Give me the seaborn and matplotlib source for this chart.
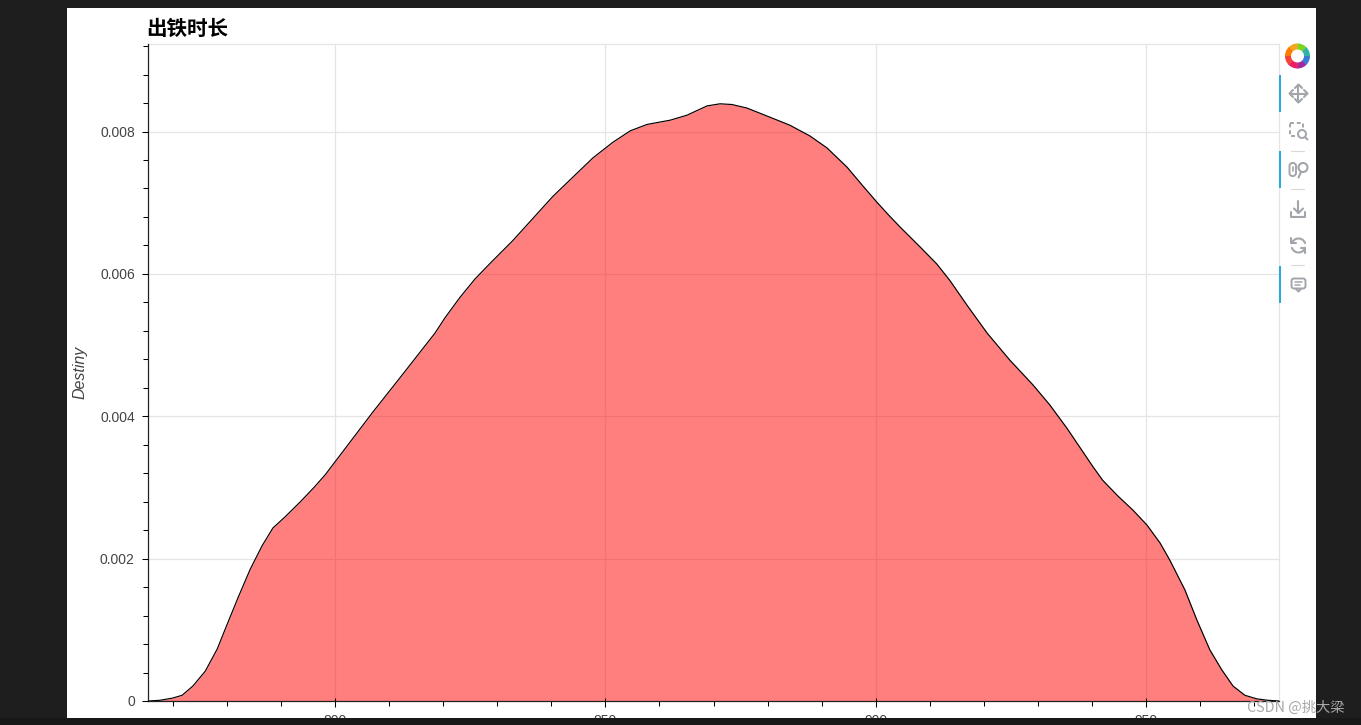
import numpy as np
import pandas as pd
import matplotlib
matplotlib.use("Agg")
import matplotlib.pyplot as plt
import seaborn as sns
from matplotlib.patches import Rectangle, Wedge, Circle, FancyBboxPatch

minutes = [765.4, 767.6, 769.9, 771.7, 773.7, 776.0, 778.2, 780.0, 782.1, 784.3, 786.5, 788.5, 790.8,
           793.6, 796.1, 798.2, 800.1, 803.3, 807.0, 812.0, 818.5, 820.3, 823.1, 825.9, 828.7, 832.9, 836.6, 840.3, 844.0,
           847.7, 851.4, 854.6, 857.7, 862.0, 865.1, 868.8, 871.2, 873.4, 876.2, 880.5, 884.1, 887.8,
           891.0, 894.7, 897.7, 900.2, 902.6, 904.5, 908.2, 911.3, 913.7, 916.9, 920.6, 924.8, 929.1,
           932.2, 935.4, 940.2, 942.0, 944.8, 947.6, 950.2, 952.6, 954.4, 957.2, 959.4, 961.8, 964.0, 966.1,
           968.3, 970.5, 972.5, 974.6]
density = [0.0, 0.00001, 0.00004, 0.00008, 0.00021, 0.00042, 0.00073, 0.00107, 0.00146, 0.00185, 0.00218,
           0.00243, 0.00259, 0.00280, 0.00300, 0.00318, 0.00337, 0.00369, 0.00406, 0.00454, 0.00517, 0.00538, 0.00567, 0.00593, 0.00615,
           0.00647, 0.00678, 0.00709, 0.00736, 0.00763, 0.00785, 0.00801, 0.00810, 0.00816, 0.00823, 0.00836,
           0.00839, 0.00838, 0.00833, 0.00820, 0.00809, 0.00794, 0.00777, 0.00750, 0.00723, 0.00701, 0.00681,
           0.00666, 0.00638, 0.00614, 0.00591, 0.00556, 0.00517, 0.00479, 0.00444, 0.00416, 0.00383, 0.00329,
           0.00310, 0.00288, 0.00268, 0.00247, 0.00222, 0.00198, 0.00156, 0.00114, 0.00072, 0.00044, 0.00021, 0.00008,
           0.00003, 0.00001, 0.0]
x_ticks = [800, 850, 900, 950]
x_tick_labels = ["800", "850", "900", "950"]
y_ticks = [0, 0.002, 0.004, 0.006, 0.008]
y_tick_labels = ["0", "0.002", "0.004", "0.006", "0.008"]
title_text = "出铁时长"
y_label = "Destiny"
watermark = "CSDN @挑大梁"

W, H = 1361, 725
sns.set_theme(style="white")
plt.rcParams["font.family"] = ["Liberation Sans", "Noto Sans CJK SC", "DejaVu Sans"]

fig = plt.figure(figsize=(W / 100, H / 100), dpi=100, facecolor="#1e1e1e")
fig.add_artist(Rectangle((67 / W, 1 - 717.5 / H), (1316 - 67) / W, (717.5 - 8) / H,
                         transform=fig.transFigure, fc="white", ec="none", zorder=-5))
ax = fig.add_axes([148 / W, 1 - 701 / H, (1279 - 148) / W, (701 - 44) / H], facecolor="none")

df = pd.DataFrame({"minutes": minutes, "density": density})
ax.fill_between(df["minutes"], 0, df["density"], color="#ff0000", alpha=0.5, lw=0, zorder=2)
sns.lineplot(data=df, x="minutes", y="density", estimator=None, sort=False, color="black", lw=0.85, ax=ax, zorder=3)

ax.set_xlim(765.4, 974.6)
ax.set_ylim(0, 0.00923)
ax.set_xticks(x_ticks, x_tick_labels)
ax.set_yticks(y_ticks, y_tick_labels)
ax.set_xticks(np.arange(770, 971, 10), minor=True)
ax.set_yticks(np.arange(0, 0.0093, 0.0004), minor=True)
ax.set_xlabel("")
ax.set_ylabel(y_label, fontsize=11.5, style="italic", color="#444444", labelpad=0)
ax.yaxis.set_label_coords((88 - 148) / (1279 - 148), 0.5)
ax.grid(True, which="major", color="#e5e5e5", lw=0.9, zorder=0)
ax.set_axisbelow(True)
for s in ["top", "right"]:
    ax.spines[s].set_color("#e5e5e5")
    ax.spines[s].set_linewidth(0.9)
for s in ["left", "bottom"]:
    ax.spines[s].set_color("#222222")
    ax.spines[s].set_linewidth(0.9)
    ax.spines[s].set_zorder(6)
ax.tick_params(axis="both", which="major", length=4.6, width=0.75, color="black", left=True, bottom=True,
               labelsize=10, labelcolor="#444444")
ax.tick_params(axis="x", which="major", pad=4.9)
ax.tick_params(axis="y", which="major", pad=4.9)
ax.tick_params(axis="both", which="minor", length=3.4, width=0.75, color="black", left=True, bottom=True)

# major ticks also reach a little way inside the plot
ax.plot(x_ticks, [0] * len(x_ticks), ls="", marker=2, ms=2, mew=0.75, color="black", clip_on=False, zorder=7)
ax.plot([765.4] * len(y_ticks), y_ticks, ls="", marker=0, ms=2, mew=0.75, color="black", clip_on=False, zorder=7)
ax.set_xlim(765.4, 974.6)
ax.set_ylim(0, 0.00923)

ax.annotate(title_text, xy=(0, 1), xycoords="axes fraction", xytext=(-1, 3.5), textcoords="offset points",
            ha="left", va="bottom", fontsize=14.8, fontweight="bold", color="black",
            family=["Noto Sans CJK SC", "DejaVu Sans"])

# pixel overlay: bottom bar and toolbar
ov = fig.add_axes([0, 0, 1, 1], facecolor="none", zorder=5)
ov.set_xlim(0, W)
ov.set_ylim(H, 0)
ov.axis("off")
ov.add_patch(Rectangle((0, 717.5), W, 8, fc="#181818", ec="none"))
for y0, y1 in [(75, 112), (151, 188), (266, 303)]:
    ov.add_patch(Rectangle((1279, y0), 2, y1 - y0, fc="#26aae1", ec="none"))
for yy in [150.5, 189, 265]:
    ov.plot([1291, 1304], [yy, yy], color="#d8d8d8", lw=0.8)

logo = ["#f5a623", "#7ed321", "#2fb5a5", "#3a7bd5", "#a6269b", "#e91e63", "#f44336", "#ff7a00"]
for i, c in enumerate(logo):
    a = -90 + i * 45 - 45
    ov.add_patch(Wedge((1297.5, 56), 12.5, a, a + 47, width=6, fc=c, ec="none"))

G = "#a2a6ab"
kw = dict(color=G, lw=1.5, solid_capstyle="round")
# pan
cx, cy = 1298.5, 93.5
ov.plot([cx - 8, cx + 8], [cy, cy], **kw)
ov.plot([cx, cx], [cy - 8, cy + 8], **kw)
for sx in (-1, 1):
    ov.plot([cx + sx * 5.5, cx + sx * 9, cx + sx * 5.5], [cy - 3.5, cy, cy + 3.5], **kw)
    ov.plot([cx - 3.5, cx, cx + 3.5], [cy + sx * 5.5, cy + sx * 9, cy + sx * 5.5], **kw)
# box zoom
ov.add_patch(Rectangle((1290.5, 122.5), 13, 13, fill=False, ec=G, lw=1.4, ls=(0, (2, 1.5))))
ov.add_patch(Circle((1302, 134), 4, fc="white", ec=G, lw=1.4))
ov.plot([1305, 1307.5], [137, 139.5], **kw)
# wheel zoom
ov.add_patch(FancyBboxPatch((1289.5, 163), 6.5, 13, boxstyle="round,pad=0,rounding_size=3", fill=False, ec=G, lw=1.4))
ov.plot([1292.7, 1292.7], [167, 171], color=G, lw=1.2)
ov.add_patch(Circle((1303, 167.5), 4.5, fc="white", ec=G, lw=1.5))
ov.plot([1301, 1298.5], [172, 177.5], **kw)
# save
ov.plot([1298.5, 1298.5], [201, 213], **kw)
ov.plot([1294, 1298.5, 1303], [208.5, 213, 208.5], **kw)
ov.plot([1291.5, 1291.5, 1305.5, 1305.5], [212, 217, 217, 212], **kw)
# reset
th = np.radians(np.arange(20, 165, 5))
ov.plot(1298.5 + 7 * np.cos(th), 245.5 - 7 * np.sin(th), **kw)
ov.plot(1298.5 - 7 * np.cos(th), 245.5 + 7 * np.sin(th), **kw)
ov.plot([1291.5, 1291.5, 1296], [238, 243, 243], **kw)
ov.plot([1305.5, 1305.5, 1301], [253, 248, 248], **kw)
# hover
ov.add_patch(FancyBboxPatch((1291.5, 278.5), 14, 10, boxstyle="round,pad=0,rounding_size=2.5", fill=False, ec=G, lw=1.4))
ov.plot([1295, 1302], [282, 282], color=G, lw=1.1)
ov.plot([1295, 1300], [285, 285], color=G, lw=1.1)
ov.plot([1296, 1298.5, 1301], [288.7, 291.5, 288.7], **kw)

ov.text(1295.5, 708, watermark, ha="center", va="center", fontsize=10.3, color="#a8a8a8",
        family=["Noto Sans CJK SC", "DejaVu Sans"], zorder=10)

fig.savefig("out.png", dpi=100, facecolor=fig.get_facecolor())
